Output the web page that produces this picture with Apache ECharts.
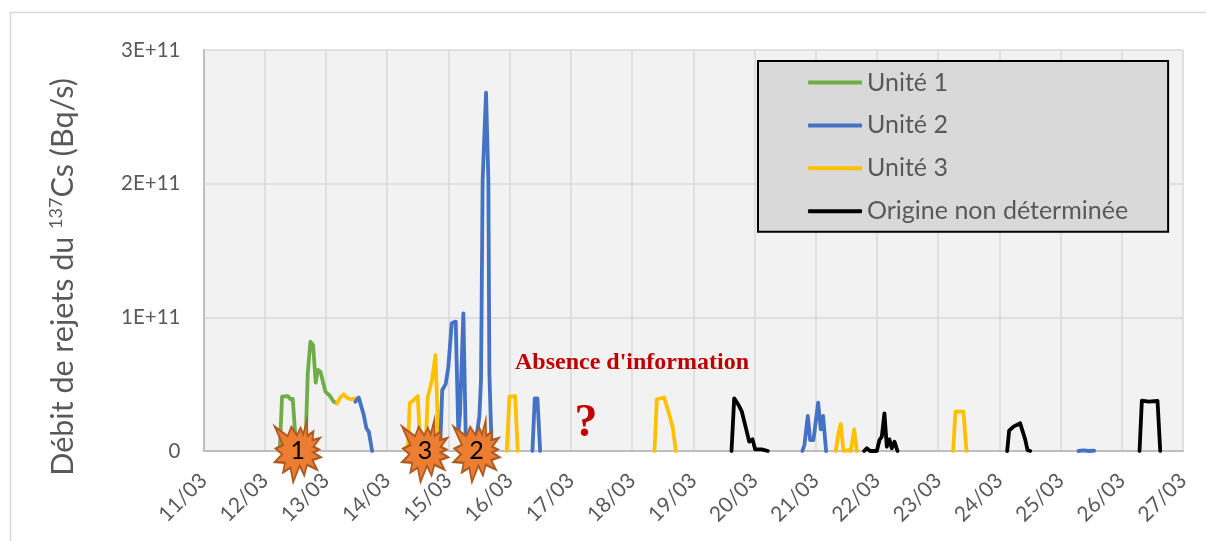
<!DOCTYPE html>
<html><head><meta charset="utf-8">
<style>html,body{margin:0;padding:0;background:#fff}#c{width:1206px;height:541px}</style>
<script src="https://cdn.jsdelivr.net/npm/echarts@6/dist/echarts.min.js"></script>
</head><body><div id="c"></div>
<script>
// Days are March dates (with fraction of day); values are in units of 1E+11 Bq/s. null breaks a line.
const dayTicksMin = 11, dayTicksMax = 27;
const unit1Days = [12.245,12.283,12.376,12.419,12.458,12.517,null,12.664,12.703,12.746,12.79,12.833,12.866,12.91,12.991,13.062,13.127,13.182];
const unit1Vals = [0,0.406,0.411,0.389,0.389,0,null,0,0.581,0.818,0.793,0.511,0.606,0.594,0.444,0.414,0.369,0.357];
const unit2Days = [13.482,13.536,13.618,13.661,13.70,13.754,null,14.863,14.90,14.956,15.0,15.054,15.12,15.163,15.19,15.245,15.288,null,15.424,15.506,15.533,15.56,15.615,15.653,15.67,15.708,null,16.373,16.411,16.455,16.499,null,20.783,20.816,20.871,20.909,20.963,21.04,21.083,21.121,21.17,null,25.293,25.375,25.457,25.55];
const unit2Vals = [0.369,0.401,0.269,0.170,0.145,0,null,0,0.456,0.50,0.63,0.955,0.968,0.13,0.28,1.03,0,null,0,0.257,0.53,2.03,2.68,2.03,0.58,0,null,0,0.394,0.394,0,null,0,0.045,0.262,0.082,0.082,0.362,0.162,0.262,0,null,0,0.005,0,0.002];
const unit3Days = [13.182,13.236,13.291,13.356,13.427,13.482,null,14.337,14.369,14.435,14.5,14.544,null,14.625,14.663,14.733,14.789,14.843,null,15.954,15.997,16.09,16.134,null,18.367,18.405,18.525,18.595,18.666,18.715,null,21.328,21.372,21.41,21.453,21.535,21.573,21.628,21.671,null,23.245,23.283,23.414,23.463];
const unit3Vals = [0.357,0.401,0.424,0.394,0.387,0.394,null,0,0.357,0.382,0.411,0,null,0,0.401,0.531,0.718,0,null,0,0.406,0.411,0,null,0,0.387,0.40,0.294,0.175,0,null,0,0.132,0.202,0,0.007,0,0.162,0,null,0,0.294,0.294,0];
const otherDays = [19.625,19.669,19.74,19.794,19.848,19.914,19.968,20.012,20.12,20.218,null,21.791,21.835,21.889,21.998,22.042,22.08,22.123,22.162,22.205,22.243,22.287,22.336,null,24.128,24.16,24.231,24.286,24.34,24.422,24.46,24.504,null,26.29,26.328,26.437,26.584,26.628];
const otherVals = [0,0.394,0.344,0.294,0.195,0.07,0.087,0.012,0.012,0,null,0,0.02,0,0,0.082,0.107,0.282,0.032,0.087,0.02,0.07,0,null,0,0.152,0.182,0.195,0.207,0.087,0.007,0,null,0,0.377,0.369,0.374,0];
const eventDays = [12.54,14.62,15.46];
const eventLabels = ['1','3','2'];
const seriesNames = ['Unité 1','Unité 2','Unité 3','Origine non déterminée'];
const seriesColors = ['#70AD47','#4472C4','#FFC000','#000000'];

const zip = (a,b)=>a.map((d,i)=>[d,b[i]]);
const starPath = 'path://M70,0 L71,33 L84,24 L82,42 L98,38 L84,56 L96,62 L84,68 L100,78 L82,84 L92,104 L70,94 L64,116 L54,96 L40,130 L34,100 L18,110 L22,90 L0,88 L16,72 L2,60 L18,52 L0,14 L28,34 L36,14 L48,32 L56,16 L62,30 Z';
const font = 'Lato';
const lineSeries = (i,days,vals)=>({name:seriesNames[i],type:'line',data:zip(days,vals),showSymbol:false,symbol:'none',
  lineStyle:{color:seriesColors[i],width:3.8,join:'round',cap:'round'},itemStyle:{color:seriesColors[i]},connectNulls:false,smooth:false,z:i===1?3:2});

const chart = echarts.init(document.getElementById('c'),null,{renderer:'canvas'});
chart.setOption({
  animation:false,backgroundColor:'#fff',
  grid:{left:203.5,right:23,top:50,bottom:90,show:true,backgroundColor:'#F2F2F2',borderWidth:0},
  xAxis:{type:'value',min:dayTicksMin,max:dayTicksMax,interval:1,
    axisLine:{show:true,onZero:false,lineStyle:{color:'#BFBFBF',width:2}},axisTick:{show:false},
    splitLine:{show:true,lineStyle:{color:'#D9D9D9',width:1.5}},
    axisLabel:{rotate:45,color:'#595959',fontFamily:font,fontSize:21,margin:26,showMinLabel:true,showMaxLabel:true,hideOverlap:false,formatter:v=>v+'/03'}},
  yAxis:{type:'value',min:0,max:3,interval:1,
    axisLine:{show:true,lineStyle:{color:'#BFBFBF',width:2}},axisTick:{show:false},
    splitLine:{show:true,lineStyle:{color:'#D9D9D9',width:1.5}},
    axisLabel:{color:'#595959',fontFamily:font,fontSize:20.5,margin:23,formatter:v=>v===0?'0':v+'E+11'}},
  legend:{show:true,orient:'vertical',left:758,top:61,icon:'roundRect',itemWidth:54,itemHeight:4,itemGap:17.9,padding:[9,40,8,50],
    backgroundColor:'#D9D9D9',borderColor:'#000',borderWidth:2,
    data:seriesNames,textStyle:{color:'#595959',fontFamily:font,fontSize:25,lineHeight:24}},
  series:[
    lineSeries(0,unit1Days,unit1Vals),
    lineSeries(1,unit2Days,unit2Vals),
    lineSeries(2,unit3Days,unit3Vals),
    lineSeries(3,otherDays,otherVals),
    {type:'scatter',z:6,clip:false,symbol:starPath,symbolSize:[46,62],silent:true,
     data:eventDays.map((d,i)=>({value:[d,0],label:{formatter:eventLabels[i]}})),
     itemStyle:{color:'#ED7D31',borderColor:'#AE5A21',borderWidth:2,opacity:1},
     label:{show:true,position:'inside',color:'#000',fontFamily:font,fontSize:25}}
  ],
  graphic:[
    {type:'rect',z:-10,shape:{x:10.5,y:12.5,width:1300,height:600},style:{fill:'#fff',stroke:'#D9D9D9',lineWidth:1.5},silent:true},
    {type:'text',z:10,x:63,y:277,rotation:Math.PI/2,silent:true,style:{
      text:'Débit de rejets du {s|137}Cs (Bq/s)',align:'center',verticalAlign:'middle',fill:'#595959',
      font:'30.5px Lato',rich:{s:{fontSize:18,fontFamily:font,fill:'#595959',verticalAlign:'top',padding:[0,0,12,0]}}}},
    {type:'text',z:10,x:632,y:363,silent:true,style:{text:"Absence d'information",align:'center',verticalAlign:'middle',fill:'#C00000',font:'bold 24px "Liberation Serif"'}},
    {type:'text',z:10,x:586,y:424,silent:true,style:{text:'?',align:'center',verticalAlign:'middle',fill:'#C00000',font:'bold 46px "Liberation Serif"'}}
  ]
});
</script></body></html>
